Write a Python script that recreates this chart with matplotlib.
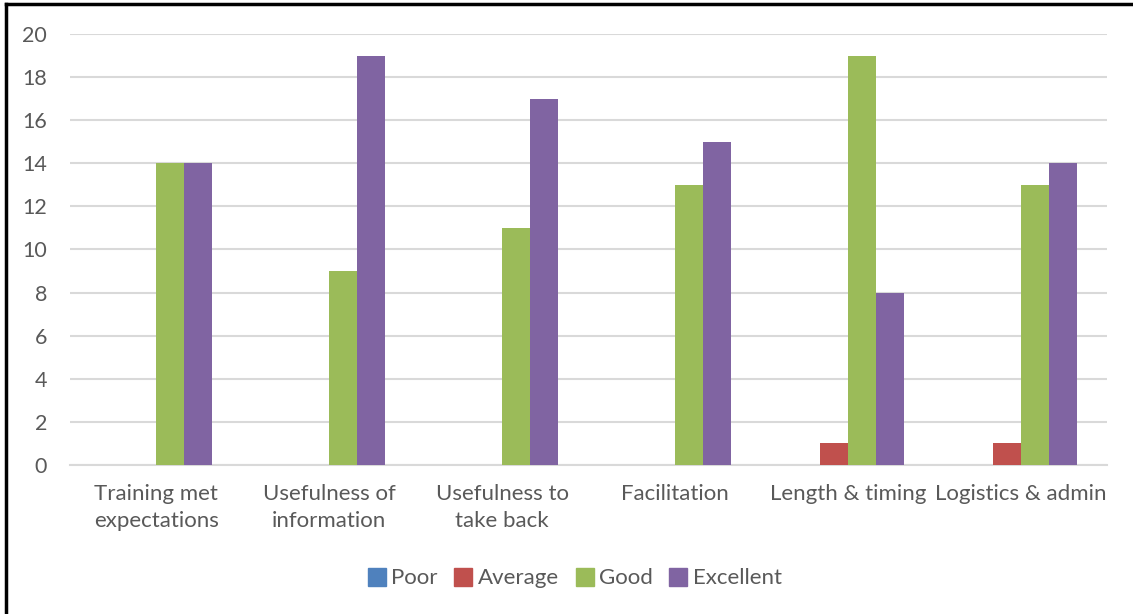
import numpy as np
import matplotlib.pyplot as plt
from matplotlib.lines import Line2D

plt.rcParams['font.family'] = ['Lato', 'DejaVu Sans']

categories = ['Training met\nexpectations', 'Usefulness of\ninformation', 'Usefulness to\ntake back',
              'Facilitation', 'Length & timing', 'Logistics & admin']
series = ['Poor', 'Average', 'Good', 'Excellent']
poor = [0, 0, 0, 0, 0, 0]
average = [0, 0, 0, 0, 1, 1]
good = [14, 9, 11, 13, 19, 13]
excellent = [14, 19, 17, 15, 8, 14]
colors = ['#4F81BD', '#C0504D', '#9BBB59', '#8064A2']

fig = plt.figure(figsize=(11.33, 6.14), dpi=100)
ax = fig.add_axes([0.0618, 0.2427, 0.9152, 0.7019])

x = np.arange(len(categories))
w = 0.162
for i, vals in enumerate([poor, average, good, excellent]):
    ax.bar(x + (i - 1.5) * w, vals, w, color=colors[i], label=series[i], zorder=3)

ax.set_xlim(-0.5, len(categories) - 0.5)
ax.set_ylim(0, 20)
ax.set_yticks(range(0, 21, 2))
ax.set_xticks(x)
ax.set_xticklabels(categories, fontsize=16, color='#595959', linespacing=1.4)
ax.tick_params(axis='y', labelsize=15.5, labelcolor='#595959', length=0, pad=16.5)
ax.tick_params(axis='x', length=0, pad=14)
ax.grid(axis='y', color='#d9d9d9', linewidth=1.5, zorder=0)
for s in ['top', 'right', 'left']:
    ax.spines[s].set_visible(False)
ax.spines['bottom'].set_color('#d9d9d9')
ax.spines['bottom'].set_linewidth(1.5)

handles = [Line2D([], [], marker='s', linestyle='', markersize=13, color=c) for c in colors]
fig.legend(handles, series, loc='center', bbox_to_anchor=(0.508, 0.058), ncol=4, frameon=False,
           fontsize=16, labelcolor='#595959', handlelength=0.7, handletextpad=0.3, columnspacing=0.8)

# frame: top and left edges only
fig.add_artist(Line2D([0.005, 1.0], [0.9935, 0.9935], color='black', linewidth=2.5, transform=fig.transFigure))
fig.add_artist(Line2D([0.005, 0.005], [0.0, 0.9935], color='black', linewidth=2.5, transform=fig.transFigure))

fig.savefig('out.png', dpi=100)
